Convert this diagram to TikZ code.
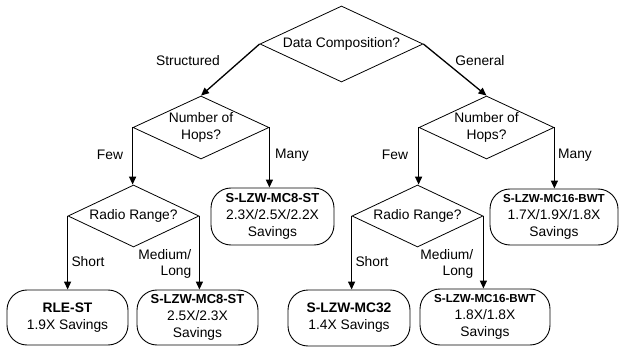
\documentclass[tikz,border=0pt]{standalone}
\usepackage{fontspec}
\setmainfont{Liberation Sans}
\usetikzlibrary{shapes.geometric,arrows.meta}
\newcommand\fsnorm{\fontsize{13.8}{16.5}\selectfont}
\newcommand\fsleaf{\fontsize{13.8}{17.2}\selectfont}
\newcommand\fsmid{\fontsize{13}{16}\selectfont}
\newcommand\fssmall{\fontsize{11.6}{14}\selectfont}
\begin{document}
\begin{tikzpicture}[x=1pt,y=-1pt,
  dia/.style={diamond, draw, line width=0.8pt, inner sep=0pt, align=center, font=\fsnorm},
  leaf/.style={draw, rounded corners=20pt, line width=0.9pt, inner sep=0pt, align=center, font=\fsleaf},
  arr/.style={line width=1.3pt, -{Triangle[length=8pt,width=7pt]}},
  lbl/.style={inner sep=0pt, font=\fsnorm}]
\useasboundingbox (0,0) rectangle (619,350);

% decisions
\node[dia, minimum width=163pt, minimum height=76pt, shape aspect=2.14] (dc) at (341.5,44) {Data Composition?};
\node[dia, minimum width=136pt, minimum height=63pt, shape aspect=2.16] (hopsL) at (201,127.5) {Number of\\Hops?};
\node[dia, minimum width=135pt, minimum height=63pt, shape aspect=2.16] (hopsR) at (486.5,127.5) {Number of\\Hops?};
\node[dia, minimum width=131pt, minimum height=62pt, shape aspect=2.1] (radioL) at (133.5,216) {Radio Range?};
\node[dia, minimum width=131pt, minimum height=62pt, shape aspect=2.1] (radioR) at (417.5,216) {Radio Range?};

% leaves
\node[leaf, minimum width=123pt, minimum height=57pt] (mc8a) at (272.5,216.5) {{\fsmid\textbf{S-LZW-MC8-ST}}\\2.3X/2.5X/2.2X\\Savings};
\node[leaf, minimum width=128pt, minimum height=56pt] (mc16a) at (554,217) {{\fssmall\textbf{S-LZW-MC16-BWT}}\\1.7X/1.9X/1.8X\\Savings};
\node[leaf, minimum width=121pt, minimum height=55pt] (rle) at (67.5,317.5) {\textbf{RLE-ST}\\1.9X Savings};
\node[leaf, minimum width=121pt, minimum height=55pt] (mc8b) at (197.5,317.5) {{\fsmid\textbf{S-LZW-MC8-ST}}\\2.5X/2.3X\\Savings};
\node[leaf, minimum width=122pt, minimum height=56pt] (mc32) at (349,318) {\textbf{S-LZW-MC32}\\1.4X Savings};
\node[leaf, minimum width=130pt, minimum height=56pt] (mc16b) at (485,317) {{\fssmall\textbf{S-LZW-MC16-BWT}}\\1.8X/1.8X\\Savings};

% connectors
\draw[arr] (dc.west) -- (hopsL.north);
\draw[arr] (dc.east) -- (hopsR.north);
\draw[arr] (hopsL.west) -- (hopsL.west |- radioL.north);
\draw[arr] (hopsL.east) -- (hopsL.east |- mc8a.north);
\draw[arr] (hopsR.west) -- (hopsR.west |- radioR.north);
\draw[arr] (hopsR.east) -- (hopsR.east |- mc16a.north);
\draw[arr] (radioL.west) -- (radioL.west |- rle.north);
\draw[arr] (radioL.east) -- (radioL.east |- mc8b.north);
\draw[arr] (radioR.west) -- (radioR.west |- mc32.north);
\draw[arr] (radioR.east) -- (radioR.east |- mc16b.north);

% labels
\node[lbl] (lstruct) at (188,61) {Structured};
\node[lbl] (lgen) at (480,61) {General};
\node[lbl] (lfewL) at (110,155) {Few};
\node[lbl] (lmanyL) at (292,155) {Many};
\node[lbl] (lfewR) at (395,155) {Few};
\node[lbl] (lmanyR) at (575,155) {Many};
\node[lbl] (lshortL) at (88,262) {Short};
\node[lbl, align=right, anchor=east] (lmedL) at (191.5,264) {Medium/\\Long};
\node[lbl] (lshortR) at (372,262) {Short};
\node[lbl, align=right, anchor=east] (lmedR) at (473.5,264) {Medium/\\Long};
\end{tikzpicture}
\end{document}
